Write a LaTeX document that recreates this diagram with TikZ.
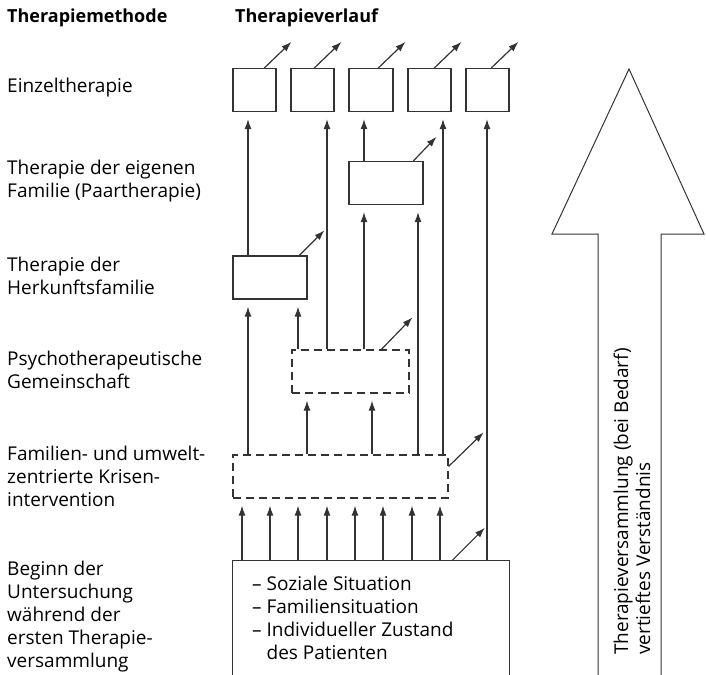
\documentclass[tikz,border=0pt]{standalone}
\usepackage{fontspec}
\setmainfont{Open Sans}
\usetikzlibrary{arrows.meta}

\begin{document}
\begin{tikzpicture}[x=1pt, y=-1pt,
    every node/.style={font=\fontsize{19}{23}\selectfont},
    linie/.style={line width=1.2pt, draw=black!80},
    kasten/.style={linie, minimum width=#1, minimum height=43pt, inner sep=0pt},
    strich/.style={kasten=#1, dash pattern=on 8pt off 5pt},
    methode/.style={anchor=west, align=left, inner sep=0pt},
    titel/.style={methode, font=\fontsize{18}{23}\selectfont\bfseries},
    pfeil/.style={linie, -{Latex[length=10pt, width=7pt]}, shorten >=7pt},
    schraeg/.style={linie, -{Latex[length=10pt, width=7pt]}}]
    \useasboundingbox (0,0) rectangle (706,674);

    \node[titel] (kopf1) at (7,18)   {Therapiemethode};
    \node[titel] (kopf2) at (235,18) {Therapieverlauf};

    \node[methode] (m1) at (7,88)    {Einzeltherapie};
    \node[methode] (m2) at (7,181)   {Therapie der eigenen\\Familie (Paartherapie)};
    \node[methode] (m3) at (7,276)   {Therapie der\\Herkunftsfamilie};
    \node[methode] (m4) at (7,370)   {Psychotherapeutische\\Gemeinschaft};
    \node[methode] (m5) at (7,476)   {Familien- und umwelt-\\zentrierte Krisen-\\intervention};
    \node[methode] (m6) at (7,616.5) {Beginn der\\Untersuchung\\während der\\ersten Therapie-\\versammlung};

    \node[kasten=43pt]  (e1)    at (254.5,90)   {};
    \node[kasten=43pt]  (e2)    at (312.5,90)   {};
    \node[kasten=44pt]  (e3)    at (371,90)     {};
    \node[kasten=43pt]  (e4)    at (429.5,90)   {};
    \node[kasten=43pt]  (e5)    at (487.5,90)   {};
    \node[kasten=74pt]  (paar)  at (386,183)    {};
    \node[kasten=74pt]  (herk)  at (270,277.5)  {};
    \node[strich=117pt] (psych) at (350.5,371.5) {};
    \node[strich=215pt] (krise) at (340.5,476.5) {};
    \node[minimum width=276pt, minimum height=118pt, inner sep=0pt] (beginn) at (371,620) {};
    \draw[linie] (beginn.south west) -- (beginn.north west) -- (beginn.north east) -- (beginn.south east);
    \node[methode] (liste) at (252,618)
        {-- Soziale Situation\\-- Familiensituation\\-- Individueller Zustand\\\phantom{-- }des Patienten};

    % grosser Pfeil
    \draw[linie, line width=1pt] (598,680) -- (598,234) -- (552,234) -- (629,69)
        -- (704,234) -- (661,234) -- (661,680);
    \node[methode, rotate=90, font=\fontsize{19}{22}\selectfont] (verst) at (632,655)
        {Therapieversammlung (bei Bedarf)\\vertieftes Verständnis};

    \path
        (242,0 |- beginn.north) edge [pfeil] (242,0 |- krise.south)
        (270,0 |- beginn.north) edge [pfeil] (270,0 |- krise.south)
        (298,0 |- beginn.north) edge [pfeil] (298,0 |- krise.south)
        (327,0 |- beginn.north) edge [pfeil] (327,0 |- krise.south)
        (355,0 |- beginn.north) edge [pfeil] (355,0 |- krise.south)
        (383,0 |- beginn.north) edge [pfeil] (383,0 |- krise.south)
        (412,0 |- beginn.north) edge [pfeil] (412,0 |- krise.south)
        (440,0 |- beginn.north) edge [pfeil] (440,0 |- krise.south)
        (487,0 |- beginn.north) edge [pfeil] (487,0 |- e5.south)
        (248,0 |- krise.north)  edge [pfeil] (248,0 |- herk.south)
        (307,0 |- krise.north)  edge [pfeil] (307,0 |- psych.south)
        (372,0 |- krise.north)  edge [pfeil] (372,0 |- psych.south)
        (418,0 |- krise.north)  edge [pfeil] (418,0 |- paar.south)
        (443,0 |- krise.north)  edge [pfeil] (443,0 |- e4.south)
        (298,0 |- psych.north)  edge [pfeil] (298,0 |- herk.south)
        (327,0 |- psych.north)  edge [pfeil] (327,0 |- e2.south)
        (364,0 |- psych.north)  edge [pfeil] (364,0 |- paar.south)
        (248,0 |- herk.north)   edge [pfeil] (248,0 |- e1.south)
        (364,0 |- paar.north)   edge [pfeil] (364,0 |- e3.south)
        ;

    % schraege Pfeile
    \draw[schraeg] ([xshift=32pt]e1.north west) -- ++(27,-26);
    \draw[schraeg] ([xshift=24pt]e2.north west) -- ++(27,-26);
    \draw[schraeg] ([xshift=30pt]e3.north west) -- ++(27,-26);
    \draw[schraeg] ([xshift=27pt]e4.north west) -- ++(27,-26);
    \draw[schraeg] ([xshift=26pt]e5.north west) -- ++(27,-26);
    \draw[schraeg] ([xshift=65pt]paar.north west) -- ++(23,-24);
    \draw[schraeg] ([xshift=67pt]herk.north west) -- ++(25,-25);
    \draw[schraeg] ([xshift=90pt]psych.north west) -- ++(31,-32);
    \draw[schraeg] ([yshift=-12pt]krise.north east) -- ++(35,-34);
    \draw[schraeg] ([xshift=219pt]beginn.north west) -- ++(33,-33);
\end{tikzpicture}
\end{document}
